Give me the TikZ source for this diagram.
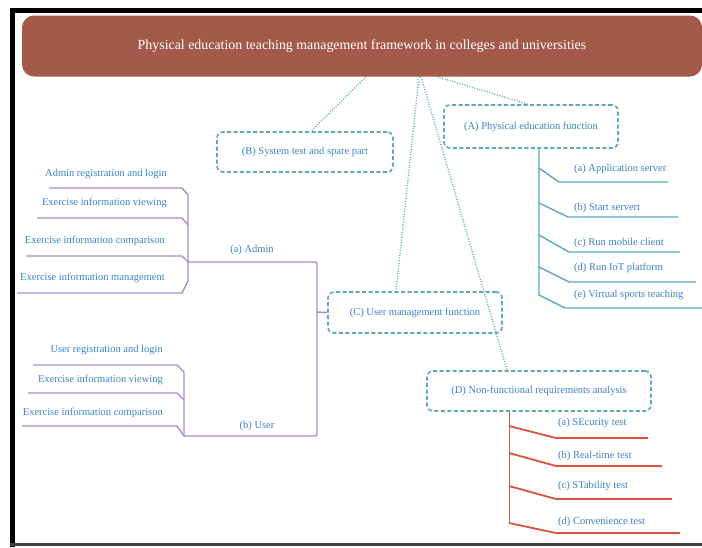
\documentclass[tikz,border=0pt]{standalone}
\usepackage{fontspec}
\setmainfont{Liberation Serif}
\usetikzlibrary{positioning}

\definecolor{bannerred}{HTML}{A45A4A}
\definecolor{boxline}{HTML}{5AA8BE}
\definecolor{labelblue}{HTML}{3C82C8}
\definecolor{treeA}{HTML}{5AA8C2}
\definecolor{treeC}{HTML}{A88CCB}
\definecolor{treeD}{HTML}{D9533E}

\tikzset{
	part/.style={draw=boxline, dash pattern=on 4pt off 2.5pt, line width=1.6pt, rounded corners=6pt, text=labelblue, font=\fontsize{10.5}{12}\selectfont, inner sep=0pt},
	dots/.style={draw=boxline, dash pattern=on 1pt off 1.6pt, line width=1.3pt},
	leaf/.style={text=labelblue, font=\fontsize{10.5}{12}\selectfont, inner sep=0pt},
	brA/.style={draw=treeA, line width=1.4pt},
	brC/.style={draw=treeC, line width=1.4pt},
	brD/.style={draw=treeD, line width=1.8pt},
}

\begin{document}
\begin{tikzpicture}[x=1pt,y=-1pt]
	\useasboundingbox (0,0) rectangle (702,547);
	\fill[white] (0,0) rectangle (702,547);
	\fill[black] (10,8) rectangle (702,13);
	\fill[black] (10,8) rectangle (15,547);
	\fill[black!75] (10,543) rectangle (702,546);

	\node[fill=bannerred, rounded corners=12pt, minimum width=680pt, minimum height=61pt, text=white, font=\fontsize{13.9}{15}\selectfont] (title) at (362,46) {Physical education teaching management framework in colleges and universities};

	\node[part, minimum width=174pt, minimum height=43pt] (funcA) at (531,126.5) {(A) Physical education function};
	\node[part, minimum width=176pt, minimum height=40pt] (testB) at (305,152) {(B) System test and spare part};
	\node[part, minimum width=174pt, minimum height=41pt] (userC) at (415,312.5) {(C) User management function};
	\node[part, minimum width=224pt, minimum height=40pt] (nonD) at (539,391) {(D) Non-functional requirements analysis};

	\draw[dots] ([xshift=4pt]title.south) -- ([xshift=6pt]testB.north);
	\draw[dots] ([xshift=57pt]title.south) -- ([xshift=-19pt]userC.north);
	\draw[dots] ([xshift=59pt]title.south) -- ([xshift=-32pt]nonD.north);
	\draw[dots] ([xshift=75pt]title.south) -- ([xshift=-3pt]funcA.north);

	% physical education function
	\node[leaf, anchor=west] (appSrv) at (574,169) {(a) Application server};
	\node[leaf, anchor=west] (startSrv) at (574,208) {(b) Start servert};
	\node[leaf, anchor=west] (mobile) at (574,243) {(c) Run mobile client};
	\node[leaf, anchor=west] (iot) at (574,268) {(d) Run IoT platform};
	\node[leaf, anchor=west] (sports) at (574,295) {(e) Virtual sports teaching};
	\draw[brA] ([xshift=8pt]funcA.south) -- (539,295) -- (565,308) -- (702,308);
	\draw[brA] (539,168) -- (559,182) -- (668,182);
	\draw[brA] (539,203) -- (568,217) -- (678,217);
	\draw[brA] (539,235) -- (569,252) -- (680,252);
	\draw[brA] (539,267) -- (569,282) -- (696,282);

	% user management function
	\node[leaf] (admin) at (252,250) {(a) Admin};
	\node[leaf] (user) at (257,426) {(b) User};
	\node[leaf, anchor=east] (adReg) at (167,174) {Admin registration and login};
	\node[leaf, anchor=east] (adView) at (167,203) {Exercise information viewing};
	\node[leaf, anchor=east] (adComp) at (165,241) {Exercise information comparison};
	\node[leaf, anchor=east] (adMan) at (165,278) {Exercise information management};
	\node[leaf, anchor=east] (usReg) at (163,350) {User registration and login};
	\node[leaf, anchor=east] (usView) at (163,380) {Exercise information viewing};
	\node[leaf, anchor=east] (usComp) at (163,413) {Exercise information comparison};
	\draw[brC] (userC.west) -- (317,312);
	\draw[brC, rounded corners=2pt] (188,262) -- (317,262) -- (317,436) -- (184,436);
	\draw[brC] (49,188) -- (182,188) -- (188,195) -- (188,281) -- (182,293) -- (17,293);
	\draw[brC] (37,218) -- (182,218) -- (188,225);
	\draw[brC] (26,256) -- (182,256) -- (188,262);
	\draw[brC] (33,365) -- (177,365) -- (184,372) -- (184,436);
	\draw[brC] (28,393) -- (177,393) -- (184,400);
	\draw[brC] (22,426) -- (177,426) -- (184,436);

	% non-functional requirements
	\node[leaf, anchor=west] (secur) at (558,423) {(a) SEcurity test};
	\node[leaf, anchor=west] (realt) at (558,456) {(b) Real-time test};
	\node[leaf, anchor=west] (stab) at (558,486) {(c) STability test};
	\node[leaf, anchor=west] (conv) at (558,522) {(d) Convenience test};
	\draw[treeD, line width=1pt] ([xshift=-30pt]nonD.south) -- (509,523);
	\draw[brD] (509,523) -- (556,533) -- (680,533);
	\draw[brD] (509,426) -- (556,438) -- (648,438);
	\draw[brD] (509,453) -- (556,466) -- (662,466);
	\draw[brD] (509,486) -- (556,499) -- (672,499);
\end{tikzpicture}
\end{document}
